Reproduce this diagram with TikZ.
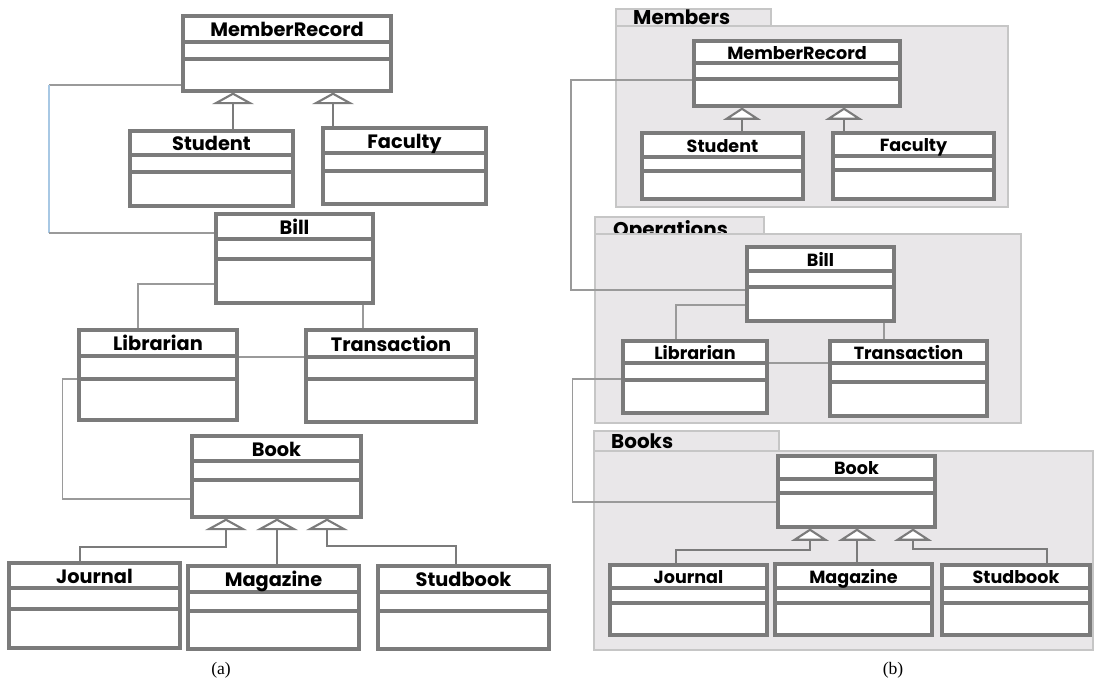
\documentclass[tikz,border=0pt]{standalone}
\usepackage{fontspec}
\setmainfont{Liberation Serif}
\newfontfamily\clsfont{Poppins}
\usetikzlibrary{arrows.meta,fit}
\definecolor{boxgray}{HTML}{7B7B7B}
\definecolor{linkgray}{HTML}{9A9A9A}
\definecolor{pkgfill}{HTML}{E9E7E9}
\definecolor{pkgline}{HTML}{C6C6C6}
\definecolor{linkblue}{HTML}{A8C8E4}
\tikzset{
	clsbox/.style={draw=boxgray,line width=2.6pt,fill=white,inner sep=0pt},
	clsline/.style={draw=boxgray,line width=2.6pt},
	clsA/.style={font=\clsfont\bfseries\fontsize{16.5}{16.5}\selectfont,text height=11.5pt,text depth=0pt,inner sep=0pt},
	clsB/.style={font=\clsfont\bfseries\fontsize{15}{15}\selectfont,text height=10.5pt,text depth=0pt,inner sep=0pt},
	pkg/.style={draw=pkgline,fill=pkgfill,line width=2pt},
	pkgname/.style={font=\clsfont\bfseries\fontsize{17}{17}\selectfont,anchor=base west,inner sep=0pt},
	assoc/.style={draw=linkgray,line width=1.1pt},
	gen/.style={draw=boxgray,line width=1.8pt,-{Triangle[fill=white,length=10pt,width=36pt]}},
	genB/.style={draw=boxgray,line width=1.8pt,-{Triangle[fill=white,length=10.5pt,width=32pt]}},
	caption/.style={font=\fontsize{15}{15}\selectfont,inner sep=0pt}
}
% name, left, top, right, bottom, divider 1, divider 2, title, style
\newcommand{\umlclass}[9]{%
	\node[clsbox,fit={(#2,#3) (#4,#5)}] (#1) {};
	\draw[clsline] (#2,#6) -- (#4,#6) (#2,#7) -- (#4,#7);
	\node[#9] (#1-name) at ({(#2+#4)/2},{(#3+#6)/2+1}) {#8};
}
\begin{document}
\begin{tikzpicture}[x=0.03cm,y=-0.03cm]
		\useasboundingbox (0,0) rectangle (1094,682);
		% (a)
		\umlclass{mrA}{183}{16}{391}{91}{42}{59}{MemberRecord}{clsA}
		\umlclass{stA}{130}{131}{293}{206}{155}{172}{Student}{clsA}
		\umlclass{faA}{323}{128}{486}{204}{153}{171}{Faculty}{clsA}
		\umlclass{biA}{216}{214}{373}{303}{239}{259}{Bill}{clsA}
		\umlclass{liA}{79}{330}{237}{420}{356}{379}{Librarian}{clsA}
		\umlclass{trA}{306}{330}{476}{422}{357}{379}{Transaction}{clsA}
		\umlclass{boA}{192}{436}{361}{517}{461}{480}{Book}{clsA}
		\umlclass{joA}{9}{563}{180}{648}{588}{609}{Journal}{clsA}
		\umlclass{maA}{188}{566}{359}{649}{592}{611}{Magazine}{clsA}
		\umlclass{suA}{378}{566}{549}{649}{592}{611}{Studbook}{clsA}
		\coordinate (kA1) at (49,85);
		\coordinate (kA2) at (49,233);
		\coordinate (jkA) at (226,547);
		\coordinate (skA) at (327,546);
		\draw[gen] (stA.north -| 233,0) -- (mrA.south -| 233,0);
		\draw[gen] (faA.north -| 333,0) -- (mrA.south -| 333,0);
		\draw[assoc] (mrA.west |- kA1) -- (kA1);
		\draw[assoc,draw=linkblue] (kA1) -- (kA2);
		\draw[assoc] (kA2) -- (biA.west |- kA2);
		\draw[assoc] (biA.west |- 0,284) -| (liA.north -| 138,0);
		\draw[assoc] (biA.south -| 363,0) -- (trA.north -| 363,0);
		\draw[assoc] (liA.east |- 0,357) -- (trA.west |- 0,357);
		\draw[assoc] (liA.west |- 0,379) -- ++(-15,0) |- (boA.west |- 0,499);
		\draw[gen] (joA.north -| 80,0) |- (jkA) -- (boA.south -| jkA);
		\draw[gen] (maA.north -| 277,0) -- (boA.south -| 277,0);
		\draw[gen] (suA.north -| 456,0) |- (skA) -- (boA.south -| skA);
		\node[caption] (capA) at (221,670) {(a)};
		% (b)
		\draw[pkg] (616,9) rectangle (771,26);
		\node[pkgname] (pkM) at (633,25) {Members};
		\draw[pkg] (616,26) rectangle (1008,207);
		\draw[pkg] (595,217) rectangle (764,234);
		\node[pkgname] (pkO) at (613,237) {Operations};
		\draw[pkg] (595,234) rectangle (1021,423);
		\draw[pkg] (594,431) rectangle (779,451);
		\node[pkgname] (pkB) at (611,448) {Books};
		\draw[pkg] (594,451) rectangle (1093,650);
		\umlclass{mrB}{694}{41}{900}{106}{63}{79}{MemberRecord}{clsB}
		\umlclass{stB}{642}{133}{803}{199}{157}{171}{Student}{clsB}
		\umlclass{faB}{833}{133}{994}{199}{156}{170}{Faculty}{clsB}
		\umlclass{biB}{747}{247}{894}{321}{271}{287}{Bill}{clsB}
		\umlclass{liB}{623}{341}{767}{413}{363}{380}{Librarian}{clsB}
		\umlclass{trB}{830}{341}{987}{416}{363}{382}{Transaction}{clsB}
		\umlclass{boB}{778}{456}{935}{527}{479}{493}{Book}{clsB}
		\umlclass{joB}{610}{565}{767}{635}{588}{603}{Journal}{clsB}
		\umlclass{maB}{775}{564}{932}{635}{588}{603}{Magazine}{clsB}
		\umlclass{suB}{942}{565}{1090}{635}{588}{603}{Studbook}{clsB}
		\coordinate (kB1) at (571,80);
		\coordinate (jkB) at (810,550);
		\coordinate (skB) at (913,549);
		\draw[genB] (stB.north -| 742,0) -- (mrB.south -| 742,0);
		\draw[genB] (faB.north -| 844,0) -- (mrB.south -| 844,0);
		\draw[assoc] (mrB.west |- kB1) -- (kB1) |- (biB.west |- 0,290);
		\draw[assoc] (biB.west |- 0,305) -| (liB.north -| 676,0);
		\draw[assoc] (biB.south -| 884,0) -- (trB.north -| 884,0);
		\draw[assoc] (liB.east |- 0,363) -- (trB.west |- 0,363);
		\draw[assoc] (liB.west |- 0,379) -- ++(-49,0) |- (boB.west |- 0,502);
		\draw[genB] (joB.north -| 676,0) |- (jkB) -- (boB.south -| jkB);
		\draw[genB] (maB.north -| 857,0) -- (boB.south -| 857,0);
		\draw[genB] (suB.north -| 1047,0) |- (skB) -- (boB.south -| skB);
		\node[caption] (capB) at (893,670) {(b)};
\end{tikzpicture}
\end{document}
